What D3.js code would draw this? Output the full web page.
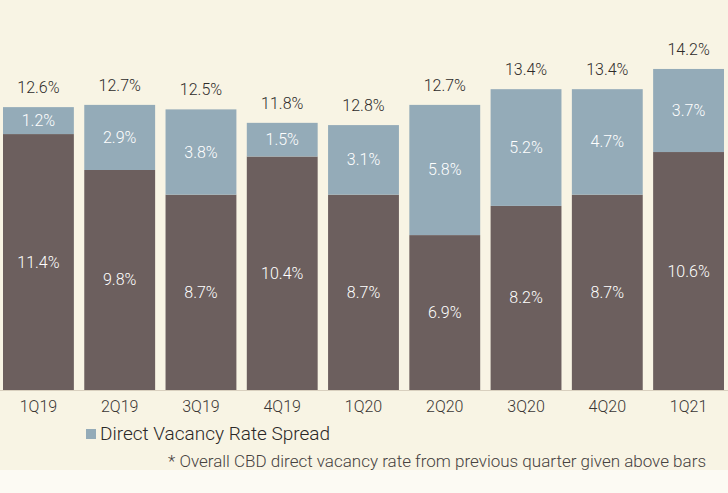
<!DOCTYPE html>
<html lang="en">
<head>
    <meta charset="UTF-8">
    <title>CBD direct vacancy rate</title>
    <script src="https://cdn.jsdelivr.net/npm/d3@7"></script>
    <style>
        html, body {
            margin: 0;
            padding: 0;
            background: #fbf8ef;
        }
        text {
            font-family: Roboto, "Open Sans", sans-serif;
            font-weight: 300;
        }
        .top-label {
            font-size: 16px;
            fill: #2e2b2a;
            text-anchor: middle;
        }
        .inner {
            font-size: 16px;
            fill: #ffffff;
            text-anchor: middle;
            dominant-baseline: central;
        }
        .tick-label {
            font-size: 16px;
            fill: #3a3634;
            text-anchor: middle;
        }
        .legend {
            font-size: 19px;
            fill: #2b2827;
        }
        .note {
            font-size: 17px;
            fill: #46423f;
            text-anchor: end;
        }
    </style>
</head>
<body>
<div id="chart"></div>
<script>
    const width = 728;
    const height = 493;

    // data
    const quarters = ["1Q19", "2Q19", "3Q19", "4Q19", "1Q20", "2Q20", "3Q20", "4Q20", "1Q21"];
    const directRate = [11.4, 9.8, 8.7, 10.4, 8.7, 6.9, 8.2, 8.7, 10.6];
    const spread = [1.2, 2.9, 3.8, 1.5, 3.1, 5.8, 5.2, 4.7, 3.7];
    const previousOverall = ["12.6%", "12.7%", "12.5%", "11.8%", "12.8%", "12.7%", "13.4%", "13.4%", "14.2%"];

    const rows = quarters.map((q, i) => ({
        quarter: q,
        direct: directRate[i],
        spread: spread[i],
        prev: previousOverall[i]
    }));

    const svg = d3.select("#chart").append("svg")
        .attr("width", width)
        .attr("height", height);

    // background: beige chart area, lighter strip at the bottom
    svg.append("rect").attr("width", width).attr("height", 470).attr("fill", "#f8f4e4");
    svg.append("rect").attr("y", 470).attr("width", width).attr("height", height - 470).attr("fill", "#fcfaf3");

    const x = d3.scaleBand()
        .domain(quarters)
        .range([3, 724])
        .paddingInner(0.128)
        .paddingOuter(0);

    const y = d3.scaleLinear()
        .domain([0, 15])
        .range([390, 390 - 15 * 22.45]);

    const stack = d3.stack().keys(["direct", "spread"]);
    const series = stack(rows);
    const colors = { direct: "#6c5f5e", spread: "#94abb8" };

    const layers = svg.append("g").attr("class", "bars")
        .selectAll("g")
        .data(series)
        .enter()
        .append("g")
        .attr("fill", d => colors[d.key]);

    layers.selectAll("rect")
        .data(d => d)
        .enter()
        .append("rect")
        .attr("x", d => x(d.data.quarter))
        .attr("y", d => y(d[1]))
        .attr("width", x.bandwidth())
        .attr("height", d => y(d[0]) - y(d[1]));

    layers.selectAll("text")
        .data(d => d.map(v => ({ v: v, key: d.key })))
        .enter()
        .append("text")
        .attr("class", "inner")
        .attr("x", d => x(d.v.data.quarter) + x.bandwidth() / 2)
        .attr("y", d => (y(d.v[0]) + y(d.v[1])) / 2)
        .text(d => d.v.data[d.key].toFixed(1) + "%");

    // baseline
    svg.append("line")
        .attr("x1", 0).attr("x2", width)
        .attr("y1", 390.5).attr("y2", 390.5)
        .attr("stroke", "#d9d0bf")
        .attr("stroke-width", 1);

    // previous quarter overall rate above bars
    svg.append("g").selectAll("text")
        .data(rows)
        .enter()
        .append("text")
        .attr("class", "top-label")
        .attr("x", d => x(d.quarter) + x.bandwidth() / 2)
        .attr("y", d => y(d.direct + d.spread) - 14)
        .text(d => d.prev);

    // category labels
    const xAxis = d3.axisBottom(x).tickSize(0).tickPadding(0);
    const axisG = svg.append("g")
        .attr("transform", "translate(0,398)")
        .call(xAxis);
    axisG.select(".domain").remove();
    axisG.selectAll("text")
        .attr("class", "tick-label")
        .attr("fill", null)
        .attr("dy", "0.9em")
        .style("font-size", "16px");

    // legend
    svg.append("rect")
        .attr("x", 86).attr("y", 429)
        .attr("width", 10).attr("height", 10)
        .attr("fill", colors.spread);
    svg.append("text")
        .attr("class", "legend")
        .attr("x", 100).attr("y", 440)
        .text("Direct Vacancy Rate Spread");

    svg.append("text")
        .attr("class", "note")
        .attr("x", 706).attr("y", 467)
        .text("* Overall CBD direct vacancy rate from previous quarter given above bars");
</script>
</body>
</html>
